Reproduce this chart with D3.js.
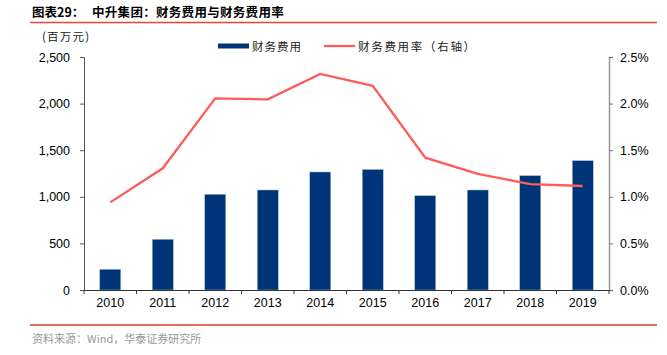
<!DOCTYPE html>
<html><head><meta charset="utf-8">
<script src="https://cdn.jsdelivr.net/npm/d3@7"></script>
<style>body{margin:0;background:#fff}svg{display:block}</style>
</head><body>
<svg id="c" width="667" height="355"></svg>
<script>
const years = ["2010","2011","2012","2013","2014","2015","2016","2017","2018","2019"];
const expense = [222, 544, 1027, 1073, 1266, 1293, 1012, 1073, 1227, 1388];
const expenseRate = [0.94, 1.306, 2.057, 2.046, 2.318, 2.19, 1.42, 1.245, 1.137, 1.116];
const leftTicks = [0, 500, 1000, 1500, 2000, 2500];
const rightTicks = [0, 0.5, 1.0, 1.5, 2.0, 2.5];

const svg = d3.select("#c");
const cjk = "'Noto Sans CJK SC', sans-serif";
const latin = "'Liberation Sans', Arial, sans-serif";
const L = 84, R = 609, T = 57, B = 290;

const x = d3.scaleBand().domain(years).range([L, R]).paddingInner(0.6).paddingOuter(0.3);
const xb = d3.scaleBand().domain(years).range([L, R]);
const yL = d3.scaleLinear().domain([0, 2500]).range([B, T]);
const yR = d3.scaleLinear().domain([0, 2.5]).range([B, T]);

// title
svg.append("text").attr("x", 32).attr("y", 17).attr("font-family", cjk).attr("font-weight", "bold")
  .attr("font-size", 12.5).attr("fill", "#000").text("图表29：");
svg.append("text").attr("x", 92).attr("y", 17).attr("font-family", cjk).attr("font-weight", "bold")
  .attr("font-size", 12.5).attr("letter-spacing", 0.3).attr("fill", "#000").text("中升集团：财务费用与财务费用率");
svg.append("line").attr("x1", 30).attr("x2", 657).attr("y1", 22.5).attr("y2", 22.5)
  .attr("stroke", "#e8473c").attr("stroke-width", 1.3);
svg.append("line").attr("x1", 30).attr("x2", 657).attr("y1", 325).attr("y2", 325)
  .attr("stroke", "#d2432f").attr("stroke-width", 1.3);
svg.append("text").attr("x", 32).attr("y", 343).attr("font-family", cjk).attr("font-size", 11)
  .attr("fill", "#999").text("资料来源：Wind，华泰证券研究所");

// unit
svg.append("text").attr("x", 42).attr("y", 41).attr("font-family", cjk).attr("font-size", 11.5)
  .attr("letter-spacing", 1.2).attr("fill", "#222").text("(百万元)");

// bars
svg.append("g").selectAll("rect").data(years).join("rect")
  .attr("x", d => x(d)).attr("width", x.bandwidth())
  .attr("y", (d, i) => yL(expense[i])).attr("height", (d, i) => B - yL(expense[i]))
  .attr("fill", "#003478").attr("stroke", "#a9bcd6").attr("stroke-width", 0.5);

// line
const line = d3.line().x((d, i) => xb(years[i]) + xb.bandwidth() / 2).y(d => yR(d));
svg.append("path").datum(expenseRate).attr("d", line).attr("fill", "none")
  .attr("stroke", "#ff5b5b").attr("stroke-width", 2.3);

// axes
const gL = svg.append("g").attr("transform", `translate(${L},0)`)
  .call(d3.axisLeft(yL).tickValues(leftTicks).tickFormat(d3.format(",")).tickSizeOuter(0).tickSize(4));
gL.select(".domain").attr("stroke", "#555");
gL.selectAll(".tick line").attr("stroke", "#555");
gL.selectAll("text").attr("font-family", latin).attr("font-size", 12.5).attr("fill", "#000").attr("x", -14);

const gR = svg.append("g").attr("transform", `translate(${R},0)`)
  .call(d3.axisRight(yR).tickValues(rightTicks).tickFormat(d => d.toFixed(1) + "%").tickSizeOuter(0).tickSize(4));
gR.select(".domain").attr("stroke", "#999").attr("stroke-width", 1.5);
gR.selectAll(".tick line").attr("stroke", "#777");
gR.selectAll("text").attr("font-family", latin).attr("font-size", 12.5).attr("fill", "#000").attr("x", 11);

const gX = svg.append("g").attr("transform", `translate(0,${B})`)
  .call(d3.axisBottom(xb).tickSize(0).tickSizeOuter(0));
gX.select(".domain").attr("stroke", "#333");
gX.selectAll("text").attr("font-family", latin).attr("font-size", 12.5).attr("fill", "#000").attr("dy", "1.1em");
// category boundary ticks
svg.append("g").selectAll("line").data(years.concat(["end"])).join("line")
  .attr("x1", (d, i) => i < years.length ? xb(d) : R).attr("x2", (d, i) => i < years.length ? xb(d) : R)
  .attr("y1", B).attr("y2", B + 4).attr("stroke", "#333");

// legend
const lg = svg.append("g");
lg.append("rect").attr("x", 218).attr("y", 43.5).attr("width", 31).attr("height", 5).attr("fill", "#003478");
lg.append("text").attr("x", 252).attr("y", 50.5).attr("font-family", cjk).attr("font-size", 11.5)
  .attr("letter-spacing", 1).attr("fill", "#222").text("财务费用");
lg.append("line").attr("x1", 324).attr("x2", 355).attr("y1", 46).attr("y2", 46)
  .attr("stroke", "#ff5b5b").attr("stroke-width", 2.3);
lg.append("text").attr("x", 358).attr("y", 50.5).attr("font-family", cjk).attr("font-size", 11.5)
  .attr("letter-spacing", 1.7).attr("fill", "#222").text("财务费用率（右轴）");
</script>
</body></html>
